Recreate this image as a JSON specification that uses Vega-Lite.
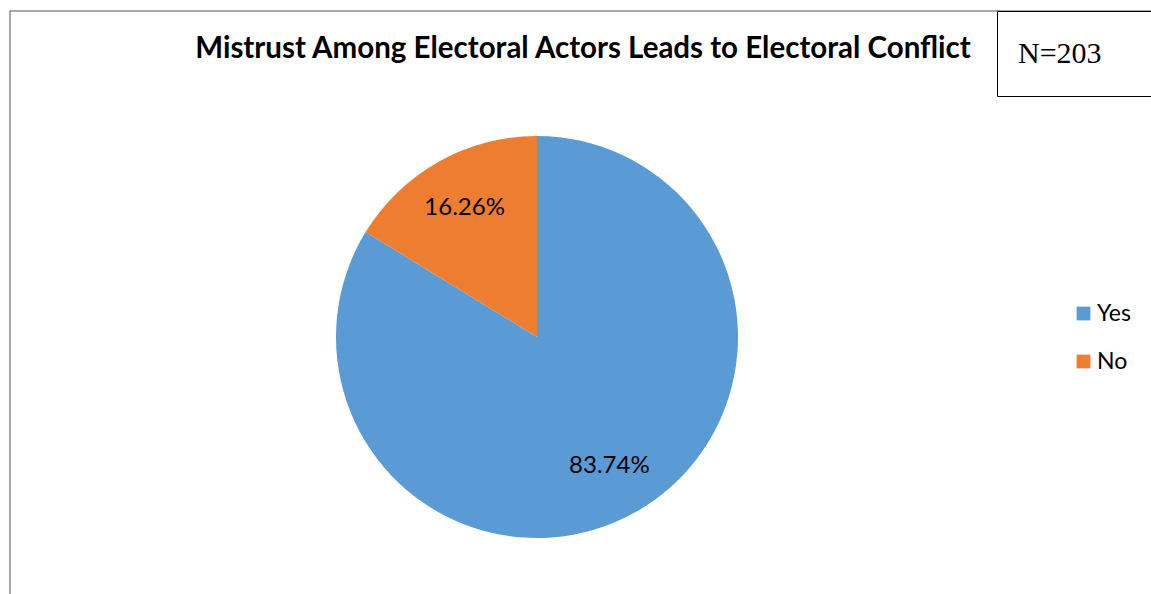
{
  "$schema": "https://vega.github.io/schema/vega-lite/v6.json",
  "width": 1146,
  "height": 588,
  "autosize": {"type": "none"},
  "padding": {"left": 10, "top": 11, "right": -5, "bottom": -5},
  "background": "white",
  "config": {"view": {"stroke": "#8c8c8c", "strokeWidth": 1.5}},
  "title": {
    "text": "Mistrust Among Electoral Actors Leads to Electoral Conflict",
    "font": "Lato",
    "fontSize": 29.5,
    "fontWeight": "bold",
    "color": "#000000",
    "offset": -46,
    "dy": 31,
    "baseline": "alphabetic",
    "anchor": "middle",
    "frame": "group"
  },
  "data": {
    "values": [
      {"response": "Yes", "share": 0.8374, "count": 170},
      {"response": "No", "share": 0.1626, "count": 33}
    ]
  },
  "encoding": {
    "theta": {"field": "share", "type": "quantitative", "stack": true},
    "order": {"field": "share", "type": "quantitative", "sort": "descending"},
    "x": {"value": 527},
    "y": {"value": 326}
  },
  "layer": [
    {
      "mark": {"type": "arc", "outerRadius": 201},
      "encoding": {
        "color": {
          "field": "response",
          "type": "nominal",
          "scale": {"domain": ["Yes", "No"], "range": ["#5B9BD5", "#ED7D31"]},
          "legend": {
            "title": null,
            "orient": "none",
            "legendX": 1062,
            "legendY": 291,
            "symbolType": "square",
            "symbolSize": 190,
            "symbolStrokeWidth": 0,
            "labelFont": "Lato",
            "labelFontSize": 23,
            "labelColor": "#000000",
            "labelOffset": 2,
            "rowPadding": 24,
            "padding": 0
          }
        }
      }
    },
    {
      "mark": {"type": "text", "radius": 148, "font": "Lato", "fontSize": 24, "color": "#000000"},
      "encoding": {
        "text": {"field": "share", "type": "quantitative", "format": ".2%"},
        "opacity": {
          "field": "count",
          "type": "ordinal",
          "scale": {"range": [1, 1]},
          "legend": {
            "title": "N=203",
            "titleOrient": "left",
            "titleAnchor": "middle",
            "titleBaseline": "middle",
            "titleFont": "Liberation Serif",
            "titleFontSize": 30,
            "titleFontWeight": "normal",
            "titleColor": "#000000",
            "titlePadding": 70,
            "labelExpr": "''",
            "symbolFillColor": "#ffffff",
            "symbolStrokeColor": "#ffffff",
            "symbolStrokeWidth": 0,
            "symbolSize": 1849,
            "direction": "horizontal",
            "orient": "none",
            "legendX": 987,
            "legendY": 0,
            "strokeColor": "#000000",
            "fillColor": "#ffffff",
            "padding": 21
          }
        }
      }
    }
  ]
}
